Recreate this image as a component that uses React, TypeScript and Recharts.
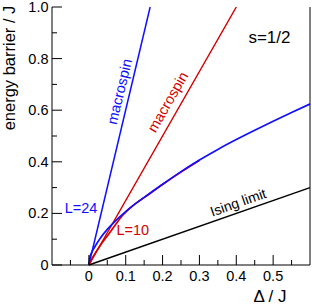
import React from "react";
import {
  LineChart,
  Line,
  XAxis,
  YAxis,
  ReferenceDot,
  Label,
} from "recharts";

interface Pt {
  x: number;
  y: number;
}

// straight lines
const macrospinBlue: Pt[] = [
  { x: 0, y: 0 },
  { x: 0.1663, y: 1 },
];
const macrospinRed: Pt[] = [
  { x: 0, y: 0 },
  { x: 0.4, y: 1 },
];
const isingLimit: Pt[] = [
  { x: 0, y: 0 },
  { x: 0.6, y: 0.3 },
];

// L=24 curve
const l24X = [0, 0.003, 0.008, 0.015, 0.03, 0.05, 0.075, 0.1, 0.125, 0.15, 0.2, 0.25, 0.3, 0.35, 0.4, 0.45, 0.5, 0.55, 0.6];
const l24Y = [0, 0.03, 0.05, 0.068, 0.102, 0.138, 0.175, 0.207, 0.236, 0.262, 0.313, 0.362, 0.407, 0.448, 0.486, 0.522, 0.557, 0.591, 0.624];

// L=10 curve
const l10X = [0, 0.01, 0.03, 0.055, 0.075, 0.09, 0.11, 0.13, 0.15, 0.2, 0.25, 0.3];
const l10Y = [0, 0.028, 0.074, 0.122, 0.162, 0.19, 0.219, 0.242, 0.261, 0.312, 0.36, 0.405];

const l24: Pt[] = l24X.map((x, i) => ({ x, y: l24Y[i] }));
const l10: Pt[] = l10X.map((x, i) => ({ x, y: l10Y[i] }));

const xMajor = [0, 0.1, 0.2, 0.3, 0.4, 0.5];
const xMinor = [-0.05, 0.05, 0.15, 0.25, 0.35, 0.45, 0.55];
const yMajor = [0, 0.2, 0.4, 0.6, 0.8, 1.0];
const yMinor = [0.1, 0.3, 0.5, 0.7, 0.9];

const xTicks = [...xMinor, ...xMajor].sort((a, b) => a - b);
const yTicks = [...yMinor, ...yMajor].sort((a, b) => a - b);

const BLUE = "#1010ff";
const RED = "#d40000";
const FONT = "'Liberation Sans', Arial, sans-serif";

const isMajor = (v: number, majors: number[]) =>
  majors.some((m) => Math.abs(m - v) < 1e-9);
const fmt = (v: number) => (v === 0 ? "0" : v.toFixed(1));

const MAJ = 10;
const MIN = 5;

const BottomTick = (p: any) => {
  const v = p.payload.value;
  const maj = isMajor(v, xMajor);
  return (
    <g>
      <line x1={p.x} y1={p.y} x2={p.x} y2={p.y - (maj ? MAJ : MIN)} stroke="#000" />
      {maj && (
        <text x={p.x} y={p.y + 15.5} textAnchor="middle" fontSize={14.5} fontFamily={FONT} fill="#000">
          {fmt(v)}
        </text>
      )}
    </g>
  );
};

const TopTick = (p: any) => {
  const maj = isMajor(p.payload.value, xMajor);
  return <line x1={p.x} y1={p.y} x2={p.x} y2={p.y + (maj ? MAJ : MIN)} stroke="#000" />;
};

const LeftTick = (p: any) => {
  const v = p.payload.value;
  const maj = isMajor(v, yMajor);
  return (
    <g>
      <line x1={p.x} y1={p.y} x2={p.x + (maj ? MAJ : MIN)} y2={p.y} stroke="#000" />
      {maj && (
        <text x={p.x - 3.5} y={p.y + 5} textAnchor="end" fontSize={14.5} fontFamily={FONT} fill="#000">
          {fmt(v)}
        </text>
      )}
    </g>
  );
};

const RightTick = (p: any) => {
  const maj = isMajor(p.payload.value, yMajor);
  return <line x1={p.x} y1={p.y} x2={p.x - (maj ? MAJ : MIN)} y2={p.y} stroke="#000" />;
};

const note = (text: string, color: string, angle: number, size = 14.5) =>
  (props: any) => {
    const vb = props.viewBox || {};
    const cx = vb.x + (vb.width || 0) / 2;
    const cy = vb.y + (vb.height || 0) / 2;
    return (
      <text
        x={cx}
        y={cy}
        transform={`rotate(${angle} ${cx} ${cy})`}
        textAnchor="middle"
        dominantBaseline="central"
        fontSize={size}
        fontFamily={FONT}
        fill={color}
      >
        {text}
      </text>
    );
  };

const App: React.FC = () => {
  return (
    <div style={{ position: "absolute", left: 0, top: 0, background: "#fff" }}>
      <LineChart
        width={312}
        height={307}
        margin={{ top: 7, right: 0, bottom: 12, left: 0 }}
      >
        <XAxis
          dataKey="x"
          type="number"
          domain={[-0.1, 0.6]}
          ticks={xTicks}
          interval={0}
          tickSize={0}
          tickMargin={0}
          tickLine={false}
          axisLine={{ stroke: "#000" }}
          tick={BottomTick}
          height={30}
        >
          <Label
            content={(props: any) => {
              const vb = props.viewBox;
              return (
                <text x={vb.x + vb.width - 40} y={vb.y + 37} textAnchor="middle" fontSize={17} fontFamily={FONT} fill="#000">
                  Δ / J
                </text>
              );
            }}
          />
        </XAxis>
        <XAxis
          xAxisId="top"
          orientation="top"
          dataKey="x"
          type="number"
          domain={[-0.1, 0.6]}
          ticks={xTicks}
          interval={0}
          tickSize={0}
          tickMargin={0}
          tickLine={false}
          axisLine={{ stroke: "#000" }}
          tick={TopTick}
          height={0}
        />
        <YAxis
          type="number"
          domain={[0, 1]}
          ticks={yTicks}
          interval={0}
          tickSize={0}
          tickMargin={0}
          tickLine={false}
          axisLine={{ stroke: "#000" }}
          tick={LeftTick}
          width={52}
        >
          <Label
            content={() => (
              <text x={15} y={68} transform="rotate(-90 15 68)" textAnchor="middle" fontSize={16.5} fontFamily={FONT} fill="#000">
                energy barrier / J
              </text>
            )}
          />
        </YAxis>
        <YAxis
          yAxisId="right"
          orientation="right"
          type="number"
          domain={[0, 1]}
          ticks={yTicks}
          interval={0}
          tickSize={0}
          tickMargin={0}
          tickLine={false}
          axisLine={{ stroke: "#000" }}
          tick={RightTick}
          width={2}
        />
        <Line data={isingLimit} dataKey="y" type="linear" stroke="#000" strokeWidth={1.5} dot={false} activeDot={false} isAnimationActive={false} />
        <Line data={macrospinRed} dataKey="y" type="linear" stroke={RED} strokeWidth={1.5} dot={false} activeDot={false} isAnimationActive={false} />
        <Line data={macrospinBlue} dataKey="y" type="linear" stroke={BLUE} strokeWidth={1.5} dot={false} activeDot={false} isAnimationActive={false} />
        <Line data={l10} dataKey="y" type="monotone" stroke={RED} strokeWidth={1.7} dot={false} activeDot={false} isAnimationActive={false} />
        <Line data={l24} dataKey="y" type="monotone" stroke={BLUE} strokeWidth={1.7} dot={false} activeDot={false} isAnimationActive={false} />

        <ReferenceDot x={0.083} y={0.672} r={0} stroke="none" label={note("macrospin", BLUE, -76.6)} />
        <ReferenceDot x={0.214} y={0.632} r={0} stroke="none" label={note("macrospin", RED, -60.3)} />
        <ReferenceDot x={0.49} y={0.88} r={0} stroke="none" label={note("s=1/2", "#000", 0, 17)} />
        <ReferenceDot x={-0.021} y={0.221} r={0} stroke="none" label={note("L=24", BLUE, 0)} />
        <ReferenceDot x={0.119} y={0.136} r={0} stroke="none" label={note("L=10", RED, 0)} />
        <ReferenceDot x={0.405} y={0.243} r={0} stroke="none" label={note("Ising limit", "#000", -19.3, 14)} />
      </LineChart>
    </div>
  );
};

export default App;
